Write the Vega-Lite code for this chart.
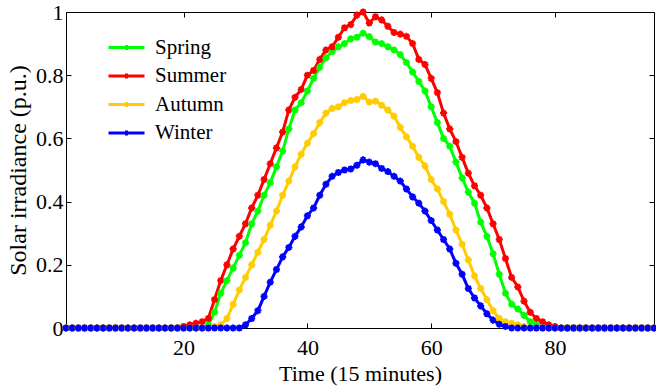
{
  "$schema": "https://vega.github.io/schema/vega-lite/v6.json",
  "width": 588,
  "height": 316,
  "autosize": "none",
  "padding": {"left": 66, "top": 12, "right": 2, "bottom": 58},
  "background": "white",
  "config": {
    "view": {"stroke": "black", "strokeWidth": 1},
    "font": "Liberation Serif",
    "axis": {
      "grid": false,
      "domainColor": "black",
      "tickColor": "black",
      "labelColor": "black",
      "titleColor": "black",
      "labelFont": "Liberation Serif",
      "titleFont": "Liberation Serif",
      "titleFontWeight": "normal",
      "labelFontSize": 22,
      "titleFontSize": 22,
      "tickSize": -5
    }
  },
  "data": {
    "values": [
      {"t":1,"Spring":0,"Summer":0,"Autumn":0,"Winter":0},
      {"t":2,"Spring":0,"Summer":0,"Autumn":0,"Winter":0},
      {"t":3,"Spring":0,"Summer":0,"Autumn":0,"Winter":0},
      {"t":4,"Spring":0,"Summer":0,"Autumn":0,"Winter":0},
      {"t":5,"Spring":0,"Summer":0,"Autumn":0,"Winter":0},
      {"t":6,"Spring":0,"Summer":0,"Autumn":0,"Winter":0},
      {"t":7,"Spring":0,"Summer":0,"Autumn":0,"Winter":0},
      {"t":8,"Spring":0,"Summer":0,"Autumn":0,"Winter":0},
      {"t":9,"Spring":0,"Summer":0,"Autumn":0,"Winter":0},
      {"t":10,"Spring":0,"Summer":0,"Autumn":0,"Winter":0},
      {"t":11,"Spring":0,"Summer":0,"Autumn":0,"Winter":0},
      {"t":12,"Spring":0,"Summer":0,"Autumn":0,"Winter":0},
      {"t":13,"Spring":0,"Summer":0,"Autumn":0,"Winter":0},
      {"t":14,"Spring":0,"Summer":0,"Autumn":0,"Winter":0},
      {"t":15,"Spring":0,"Summer":0,"Autumn":0,"Winter":0},
      {"t":16,"Spring":0,"Summer":0,"Autumn":0,"Winter":0},
      {"t":17,"Spring":0,"Summer":0,"Autumn":0,"Winter":0},
      {"t":18,"Spring":0,"Summer":0,"Autumn":0,"Winter":0},
      {"t":19,"Spring":0,"Summer":0,"Autumn":0,"Winter":0},
      {"t":20,"Spring":0,"Summer":0.005,"Autumn":0,"Winter":0},
      {"t":21,"Spring":0,"Summer":0.01,"Autumn":0,"Winter":0},
      {"t":22,"Spring":0,"Summer":0.015,"Autumn":0,"Winter":0},
      {"t":23,"Spring":0,"Summer":0.02,"Autumn":0,"Winter":0},
      {"t":24,"Spring":0.01,"Summer":0.03,"Autumn":0,"Winter":0},
      {"t":25,"Spring":0.05,"Summer":0.09,"Autumn":0.005,"Winter":0},
      {"t":26,"Spring":0.11,"Summer":0.15,"Autumn":0.01,"Winter":0},
      {"t":27,"Spring":0.15,"Summer":0.2,"Autumn":0.03,"Winter":0},
      {"t":28,"Spring":0.19,"Summer":0.25,"Autumn":0.075,"Winter":0},
      {"t":29,"Spring":0.23,"Summer":0.29,"Autumn":0.12,"Winter":0},
      {"t":30,"Spring":0.27,"Summer":0.33,"Autumn":0.16,"Winter":0.01},
      {"t":31,"Spring":0.33,"Summer":0.38,"Autumn":0.2,"Winter":0.03},
      {"t":32,"Spring":0.37,"Summer":0.42,"Autumn":0.24,"Winter":0.055},
      {"t":33,"Spring":0.42,"Summer":0.47,"Autumn":0.28,"Winter":0.1},
      {"t":34,"Spring":0.46,"Summer":0.52,"Autumn":0.325,"Winter":0.145},
      {"t":35,"Spring":0.51,"Summer":0.57,"Autumn":0.37,"Winter":0.185},
      {"t":36,"Spring":0.56,"Summer":0.62,"Autumn":0.42,"Winter":0.225},
      {"t":37,"Spring":0.63,"Summer":0.69,"Autumn":0.465,"Winter":0.255},
      {"t":38,"Spring":0.69,"Summer":0.73,"Autumn":0.51,"Winter":0.29},
      {"t":39,"Spring":0.713,"Summer":0.755,"Autumn":0.55,"Winter":0.32},
      {"t":40,"Spring":0.75,"Summer":0.8,"Autumn":0.585,"Winter":0.355},
      {"t":41,"Spring":0.79,"Summer":0.815,"Autumn":0.615,"Winter":0.38},
      {"t":42,"Spring":0.825,"Summer":0.85,"Autumn":0.65,"Winter":0.42},
      {"t":43,"Spring":0.855,"Summer":0.88,"Autumn":0.68,"Winter":0.455},
      {"t":44,"Spring":0.875,"Summer":0.89,"Autumn":0.695,"Winter":0.48},
      {"t":45,"Spring":0.89,"Summer":0.92,"Autumn":0.7,"Winter":0.492},
      {"t":46,"Spring":0.9,"Summer":0.95,"Autumn":0.713,"Winter":0.5},
      {"t":47,"Spring":0.915,"Summer":0.96,"Autumn":0.72,"Winter":0.503},
      {"t":48,"Spring":0.92,"Summer":0.99,"Autumn":0.723,"Winter":0.515},
      {"t":49,"Spring":0.933,"Summer":1.0,"Autumn":0.733,"Winter":0.532},
      {"t":50,"Spring":0.922,"Summer":0.965,"Autumn":0.715,"Winter":0.525},
      {"t":51,"Spring":0.905,"Summer":0.985,"Autumn":0.718,"Winter":0.52},
      {"t":52,"Spring":0.9,"Summer":0.975,"Autumn":0.705,"Winter":0.505},
      {"t":53,"Spring":0.89,"Summer":0.955,"Autumn":0.69,"Winter":0.495},
      {"t":54,"Spring":0.88,"Summer":0.935,"Autumn":0.67,"Winter":0.48},
      {"t":55,"Spring":0.865,"Summer":0.93,"Autumn":0.635,"Winter":0.465},
      {"t":56,"Spring":0.84,"Summer":0.923,"Autumn":0.605,"Winter":0.44},
      {"t":57,"Spring":0.81,"Summer":0.9,"Autumn":0.575,"Winter":0.415},
      {"t":58,"Spring":0.78,"Summer":0.85,"Autumn":0.54,"Winter":0.395},
      {"t":59,"Spring":0.75,"Summer":0.834,"Autumn":0.513,"Winter":0.37},
      {"t":60,"Spring":0.7,"Summer":0.79,"Autumn":0.47,"Winter":0.34},
      {"t":61,"Spring":0.65,"Summer":0.745,"Autumn":0.44,"Winter":0.31},
      {"t":62,"Spring":0.6,"Summer":0.68,"Autumn":0.4,"Winter":0.28},
      {"t":63,"Spring":0.575,"Summer":0.63,"Autumn":0.36,"Winter":0.25},
      {"t":64,"Spring":0.525,"Summer":0.59,"Autumn":0.31,"Winter":0.205},
      {"t":65,"Spring":0.475,"Summer":0.54,"Autumn":0.265,"Winter":0.17},
      {"t":66,"Spring":0.43,"Summer":0.49,"Autumn":0.215,"Winter":0.125},
      {"t":67,"Spring":0.395,"Summer":0.45,"Autumn":0.165,"Winter":0.095},
      {"t":68,"Spring":0.335,"Summer":0.42,"Autumn":0.125,"Winter":0.07},
      {"t":69,"Spring":0.29,"Summer":0.38,"Autumn":0.09,"Winter":0.045},
      {"t":70,"Spring":0.235,"Summer":0.33,"Autumn":0.055,"Winter":0.025},
      {"t":71,"Spring":0.17,"Summer":0.28,"Autumn":0.03,"Winter":0.012},
      {"t":72,"Spring":0.11,"Summer":0.22,"Autumn":0.02,"Winter":0.005},
      {"t":73,"Spring":0.075,"Summer":0.16,"Autumn":0.015,"Winter":0},
      {"t":74,"Spring":0.06,"Summer":0.13,"Autumn":0.01,"Winter":0},
      {"t":75,"Spring":0.04,"Summer":0.085,"Autumn":0.005,"Winter":0},
      {"t":76,"Spring":0.02,"Summer":0.05,"Autumn":0,"Winter":0},
      {"t":77,"Spring":0.01,"Summer":0.03,"Autumn":0,"Winter":0},
      {"t":78,"Spring":0,"Summer":0.02,"Autumn":0,"Winter":0},
      {"t":79,"Spring":0,"Summer":0.01,"Autumn":0,"Winter":0},
      {"t":80,"Spring":0,"Summer":0.005,"Autumn":0,"Winter":0},
      {"t":81,"Spring":0,"Summer":0,"Autumn":0,"Winter":0},
      {"t":82,"Spring":0,"Summer":0,"Autumn":0,"Winter":0},
      {"t":83,"Spring":0,"Summer":0,"Autumn":0,"Winter":0},
      {"t":84,"Spring":0,"Summer":0,"Autumn":0,"Winter":0},
      {"t":85,"Spring":0,"Summer":0,"Autumn":0,"Winter":0},
      {"t":86,"Spring":0,"Summer":0,"Autumn":0,"Winter":0},
      {"t":87,"Spring":0,"Summer":0,"Autumn":0,"Winter":0},
      {"t":88,"Spring":0,"Summer":0,"Autumn":0,"Winter":0},
      {"t":89,"Spring":0,"Summer":0,"Autumn":0,"Winter":0},
      {"t":90,"Spring":0,"Summer":0,"Autumn":0,"Winter":0},
      {"t":91,"Spring":0,"Summer":0,"Autumn":0,"Winter":0},
      {"t":92,"Spring":0,"Summer":0,"Autumn":0,"Winter":0},
      {"t":93,"Spring":0,"Summer":0,"Autumn":0,"Winter":0},
      {"t":94,"Spring":0,"Summer":0,"Autumn":0,"Winter":0},
      {"t":95,"Spring":0,"Summer":0,"Autumn":0,"Winter":0},
      {"t":96,"Spring":0,"Summer":0,"Autumn":0,"Winter":0}
    ]
  },
  "transform": [
    {"fold": ["Spring", "Summer", "Autumn", "Winter"], "as": ["season", "value"]}
  ],
  "resolve": {"axis": {"x": "independent", "y": "independent"}},
  "layer": [
    {
      "mark": {"type": "line", "strokeWidth": 3, "clip": true},
      "encoding": {
        "x": {
          "field": "t", "type": "quantitative",
          "scale": {"domain": [1, 96], "nice": false, "zero": false},
          "axis": {"orient": "bottom", "values": [20, 40, 60, 80], "title": "Time (15 minutes)", "labelPadding": 14, "titlePadding": 5}
        },
        "y": {
          "field": "value", "type": "quantitative",
          "scale": {"domain": [0, 1], "nice": false},
          "axis": {"orient": "left", "values": [0, 0.2, 0.4, 0.6, 0.8, 1], "format": "~g", "labelFontSize": 22, "title": "Solar irradiance (p.u.)", "titleFontSize": 24, "labelPadding": 8, "titlePadding": 5}
        },
        "color": {
          "field": "season", "type": "nominal",
          "scale": {"domain": ["Spring", "Summer", "Autumn", "Winter"], "range": ["#00FF00", "#FF0000", "#FFCC00", "#0000FF"]},
          "legend": {
            "orient": "none", "legendX": 50, "legendY": 25, "title": null,
            "symbolType": "M-3,0L3,0M0,-0.4L0,0.4M-0.4,0L0.4,0",
            "symbolSize": 144, "symbolStrokeWidth": 3, "symbolFillColor": "transparent",
            "labelFont": "Liberation Serif", "labelFontSize": 21, "labelColor": "black",
            "labelOffset": 18, "rowPadding": 6.5, "padding": 0
          }
        },
        "order": {"field": "t", "type": "quantitative"}
      }
    },
    {
      "mark": {"type": "point", "shape": "M0,-1L0,1M-1,0L1,0M-0.7,-0.7L0.7,0.7M-0.7,0.7L0.7,-0.7", "filled": false, "size": 50, "strokeWidth": 2, "opacity": 1},
      "encoding": {
        "x": {"field": "t", "type": "quantitative", "axis": {"orient": "top", "values": [20, 40, 60, 80], "labels": false, "title": null, "domain": false}},
        "y": {"field": "value", "type": "quantitative", "axis": {"orient": "right", "values": [0, 0.2, 0.4, 0.6, 0.8, 1], "labels": false, "title": null, "domain": false}},
        "color": {"field": "season", "type": "nominal", "legend": null}
      }
    }
  ]
}
